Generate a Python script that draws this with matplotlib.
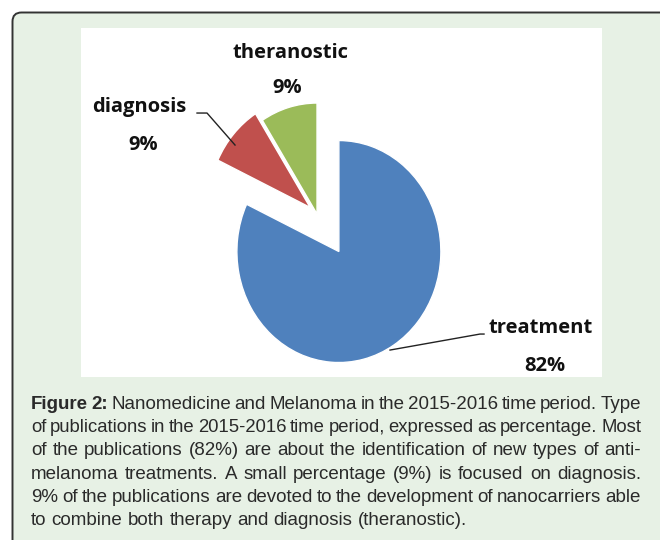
import matplotlib
matplotlib.use('Agg')
import matplotlib.pyplot as plt
from matplotlib.patches import FancyBboxPatch, Rectangle

labels = ['treatment', 'diagnosis', 'theranostic']
shares = [82, 9, 9]
colors = ['#4f81bd', '#c0504d', '#9bbb59']
explode = [0.4, 0.09, 0.0]

caption_lines = [
    'Figure 2: Nanomedicine and Melanoma in the 2015-2016 time period. Type',
    'of publications in the 2015-2016 time period, expressed as percentage. Most',
    'of the publications (82%) are about the identification of new types of anti-',
    'melanoma treatments. A small percentage (9%) is focused on diagnosis.',
    '9% of the publications are devoted to the development of nanocarriers able',
    'to combine both therapy and diagnosis (theranostic).',
]

cap_font = ['Liberation Sans', 'DejaVu Sans']
lab_font = ['Open Sans', 'DejaVu Sans']

W, H = 660, 540
fig = plt.figure(figsize=(6.6, 5.4), dpi=100)
fig.patch.set_facecolor('white')

# background box, drawn in pixel coords
bg = fig.add_axes([0, 0, 1, 1])
bg.set_xlim(0, W)
bg.set_ylim(H, 0)
bg.axis('off')
bg.add_patch(FancyBboxPatch((12.5, 12.5), 700, 600, boxstyle='round,pad=0,rounding_size=9',
                            facecolor='#e7f1e5', edgecolor='#333333', linewidth=1.4))
bg.add_patch(Rectangle((81, 28), 521, 349, facecolor='white', edgecolor='none'))

# pie area
ax = fig.add_axes([81 / W, 1 - 377 / H, 521 / W, 349 / H])
ax.pie(shares, colors=colors, explode=explode, startangle=90, counterclock=False,
       wedgeprops=dict(edgecolor='white', linewidth=1.0))
ax.set_aspect('auto')
ax.set_xlim(-2.314, 2.794)
ax.set_ylim(-1.468, 1.676)
ax.axis('off')

def px(x, y):
    return (x - 317) / 102, (214 - y) / 111

lab_kw = dict(fontfamily=lab_font, fontweight='bold', fontsize=14.5, color='#111111',
              ha='center', va='baseline')
ax.text(*px(290, 58), labels[2], **lab_kw)
ax.text(*px(287, 93), '%d%%' % shares[2], **lab_kw)
ax.text(*px(139, 112), labels[1], **lab_kw)
ax.text(*px(143, 150), '%d%%' % shares[1], **lab_kw)
ax.text(*px(541, 333), labels[0], **lab_kw, clip_on=False)
ax.text(*px(545, 371), '%d%%' % shares[0], **lab_kw)

# leader lines
for pts in ([(235, 145), (207, 113), (197, 113)], [(390, 350), (480, 334), (484, 334)]):
    xs, ys = zip(*[px(*p) for p in pts])
    ax.plot(xs, ys, color='#222222', linewidth=1.0, clip_on=False)

# justified caption
fig.canvas.draw()
r = fig.canvas.get_renderer()
left, right = 31, 641
cap_color = '#2a2a2a'

def width(s, size, weight='normal'):
    t = bg.text(0, 0, s, fontsize=size, fontfamily=cap_font, fontweight=weight)
    w = t.get_window_extent(renderer=r).width
    t.remove()
    return w

for i, line in enumerate(caption_lines):
    y = 409 + i * 23.2
    size = 13.5
    words = line.split(' ')
    weights = ['bold' if (i == 0 and k < 2) else 'normal' for k in range(len(words))]
    ws = [width(wd, size, wt) for wd, wt in zip(words, weights)]
    if i < len(caption_lines) - 1:
        need = sum(ws) + 3.5 * (len(words) - 1)
        if need > right - left:
            size *= (right - left - 3.5 * (len(words) - 1)) / sum(ws)
            ws = [width(wd, size, wt) for wd, wt in zip(words, weights)]
        gap = (right - left - sum(ws)) / (len(words) - 1)
    else:
        gap = width('a b', size) - width('ab', size)
    x = left
    for wd, wt, w in zip(words, weights, ws):
        bg.text(x, y, wd, fontsize=size, fontfamily=cap_font, fontweight=wt,
                color=cap_color, ha='left', va='baseline')
        x += w + gap

fig.savefig('out.png', dpi=100)
